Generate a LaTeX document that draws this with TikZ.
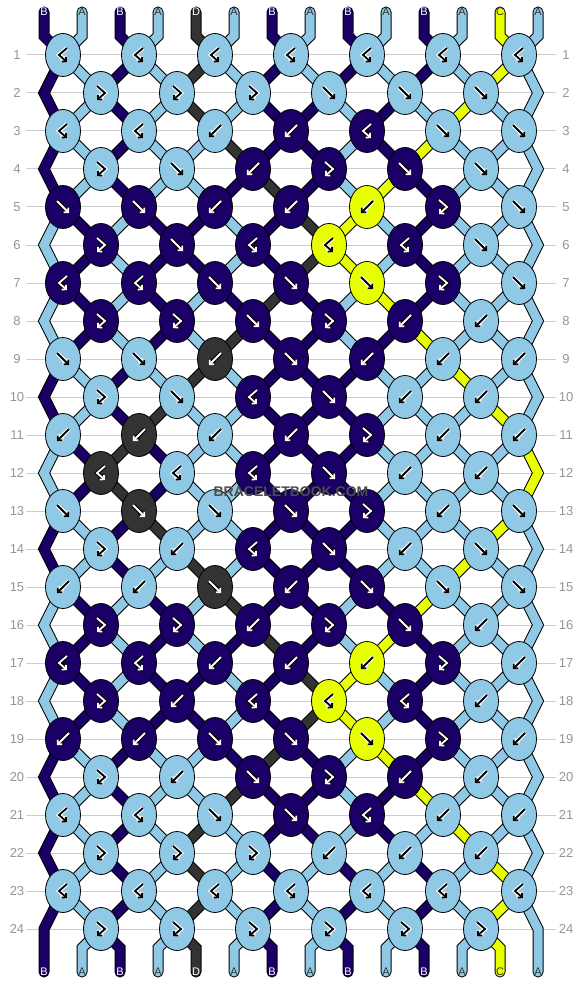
\documentclass[tikz,border=0pt]{standalone}
\usepackage{fontspec}
\setmainfont{Liberation Sans}
\usetikzlibrary{shapes.geometric,arrows.meta}

\definecolor{colA}{RGB}{143,201,230}
\definecolor{colB}{RGB}{26,0,102}
\definecolor{colC}{RGB}{232,255,0}
\definecolor{colD}{RGB}{51,51,51}
\colorlet{glyA}{black}\colorlet{halA}{white}\colorlet{labA}{black!80}
\colorlet{glyB}{white}\colorlet{halB}{black}\colorlet{labB}{white}
\colorlet{glyC}{black}\colorlet{halC}{white}\colorlet{labC}{black!80}
\colorlet{glyD}{white}\colorlet{halD}{black}\colorlet{labD}{white}
\definecolor{gridgrey}{RGB}{204,204,204}
\definecolor{numgrey}{RGB}{150,150,150}

\pgfdeclarelayer{grid}
\pgfdeclarelayer{strout}
\pgfdeclarelayer{strfill}
\pgfsetlayers{grid,strout,strfill,main}

%% string colour bookkeeping
\newcommand{\setstr}[2]{\expandafter\xdef\csname str#1\endcsname{#2}}
\newcommand{\getstr}[1]{\csname str#1\endcsname}
\newcommand{\setrow}[3]{\expandafter\xdef\csname row#1-#2\endcsname{#3}}
\newcommand{\getrow}[2]{\csname row#1-#2\endcsname}
%% knot holding string position #2 in row #1 -> \pn
\newcommand{\posnode}[2]{%
  \ifodd#1\relax
    \pgfmathtruncatemacro{\pk}{(#2+1)/2}\edef\pn{k#1-\pk}%
  \else
    \ifnum#2=1 \edef\pn{k#1-L}\else
    \ifnum#2=14 \edef\pn{k#1-R}\else
    \pgfmathtruncatemacro{\pk}{#2/2}\edef\pn{k#1-\pk}\fi\fi
  \fi}
\newcommand{\glyph}[1]{\draw[glyphhalo, draw=\hcol] #1;\draw[glyphline, draw=\gcol] #1;}
%% every string piece, drawn with the current strand style
\newcommand{\allstrands}{%
  \foreach \i in {1,...,14}{
    \pgfmathtruncatemacro{\kk}{(\i+1)/2}
    \edef\scol{col\getrow{0}{\i}}
    \draw[strand=\scol] (top\i.center) -- ++(0,24) -- (k1-\kk.center);
  }
  \foreach \r in {1,...,23}{
    \pgfmathtruncatemacro{\rn}{\r+1}
    \foreach \i in {2,...,13}{
      \posnode{\r}{\i}\edef\pa{\pn}
      \posnode{\rn}{\i}\edef\pb{\pn}
      \edef\scol{col\getrow{\r}{\i}}
      \draw[strand=\scol] (\pa.center) -- (\pb.center);
    }
  }
  \foreach \r in {1,3,...,21}{
    \pgfmathtruncatemacro{\rn}{\r+1}\pgfmathtruncatemacro{\rnn}{\r+2}
    \edef\scol{col\getrow{\r}{1}}
    \draw[strand=\scol] (k\r-1.center) -- (k\rn-L) -- (k\rnn-1.center);
    \edef\scol{col\getrow{\r}{14}}
    \draw[strand=\scol] (k\r-7.center) -- (k\rn-R) -- (k\rnn-7.center);
  }
  \edef\scol{col\getrow{23}{1}}
  \draw[strand=\scol] (k23-1.center) -- (k24-L) -- (bot1.center);
  \edef\scol{col\getrow{23}{14}}
  \draw[strand=\scol] (k23-7.center) -- (k24-R) -- (bot14.center);
  \foreach \i in {2,...,13}{
    \pgfmathtruncatemacro{\kk}{\i/2}
    \ifodd\i\relax \def\dx{19}\else \def\dx{-19}\fi
    \edef\scol{col\getrow{24}{\i}}
    \draw[strand=\scol] (k24-\kk.center) -- ++(\dx,19) -- (bot\i.center);
  }}

\begin{document}
\begin{tikzpicture}[x=1pt,y=-1pt]
\tikzset{
  knot/.style={ellipse, draw=black, line width=0.8pt, minimum width=35pt, minimum height=43pt, inner sep=0pt},
  glyphhalo/.style={line width=4pt, -{Straight Barb[length=3pt,width=6.5pt]}},
  glyphline/.style={line width=1.8pt, -{Straight Barb[length=3pt,width=6.5pt]}},
  endlabel/.style={font=\fontsize{11}{11}\selectfont, inner sep=0pt},
  rownum/.style={font=\fontsize{13}{13}\selectfont, text=numgrey, inner sep=0pt},
  gridline/.style={draw=gridgrey, line width=1pt},
  watermark/.style={font=\bfseries\fontsize{14}{14}\selectfont, text=black!70}
}
\path[use as bounding box] (0,0) rectangle (582,984);

%% ROW LINES AND NUMBERS
\begin{pgfonlayer}{grid}
  \fill[white] (0,0) rectangle (582,984);
  \foreach \r in {1,...,24}{
    \pgfmathtruncatemacro{\py}{17+38*\r}
    \draw[gridline] (26,\py) -- (556,\py);
  }
\end{pgfonlayer}
\foreach \r in {1,...,24}{
  \pgfmathtruncatemacro{\py}{17+38*\r}
  \node[rownum] (lnum\r) at (17,\py) {\r};
  \node[rownum] (rnum\r) at (566,\py) {\r};
}

%% TOP ENDS
\foreach \c [count=\i] in {B,A,B,A,D,A,B,A,B,A,B,A,C,A}{
  \setstr{\i}{\c}\setrow{0}{\i}{\c}
  \edef\lcol{lab\c}
  \node[endlabel, text=\lcol] (top\i) at ({44+38*(\i-1)},12) {\c};
}

%% KNOTS  (1 = f, 2 = b, 3 = fb, 4 = bf)
\foreach \knots [count=\r] in {%
  {4,4,4,4,4,4,4},{3,3,3,1,1,1},{4,4,2,2,4,1,1},{3,1,2,3,1,1},%
  {1,1,2,2,2,3,1},{3,1,4,4,4,1},{4,4,1,1,1,3,1},{3,3,1,3,2,2},%
  {1,1,2,1,2,2,2},{3,1,4,1,2,2},{2,2,2,2,3,2,2},{4,4,4,1,2,2},%
  {1,1,1,1,3,2,1},{3,2,4,1,2,1},{2,2,1,2,1,1,1},{3,3,2,3,1,2},%
  {4,4,2,2,2,3,2},{3,2,4,4,4,2},{2,2,1,1,1,3,2},{3,2,1,3,2,2},%
  {4,4,1,1,4,2,2},{3,3,3,2,2,2},{4,4,4,4,4,4,4},{3,3,3,3,3,3}%
}{
  \pgfmathtruncatemacro{\py}{17+38*\r}
  \foreach \t [count=\k] in \knots {
    \ifodd\r\relax
      \pgfmathtruncatemacro{\lp}{2*\k-1}\pgfmathtruncatemacro{\px}{63+76*(\k-1)}
    \else
      \pgfmathtruncatemacro{\lp}{2*\k}\pgfmathtruncatemacro{\px}{101+76*(\k-1)}
    \fi
    \pgfmathtruncatemacro{\rp}{\lp+1}
    \edef\lc{\getstr{\lp}}\edef\rc{\getstr{\rp}}
    \edef\kc{\ifcase\t\or\lc\or\rc\or\lc\or\rc\fi}
    \edef\kfill{col\kc}\edef\gcol{gly\kc}\edef\hcol{hal\kc}
    \node[knot, fill=\kfill] (k\r-\k) at (\px,\py) {};
    \ifcase\t\or
      \glyph{(\px-6,\py-6) -- (\px+6,\py+6)}\or
      \glyph{(\px+6,\py-6) -- (\px-6,\py+6)}\or
      \glyph{(\px-4,\py-7) -- (\px+4,\py) -- (\px-4,\py+7)}\or
      \glyph{(\px+4,\py-7) -- (\px-4,\py) -- (\px+4,\py+7)}\fi
    \ifnum\t<3 \setstr{\lp}{\rc}\setstr{\rp}{\lc}\fi
  }
  \ifodd\r\relax\else
    \coordinate (k\r-L) at (44,\py);
    \coordinate (k\r-R) at (538,\py);
  \fi
  \foreach \i in {1,...,14}{\setrow{\r}{\i}{\getstr{\i}}}
}

%% BOTTOM ENDS
\foreach \i in {1,...,14}{
  \edef\blet{\getrow{24}{\i}}\edef\lcol{lab\blet}
  \node[endlabel, text=\lcol] (bot\i) at ({44+38*(\i-1)},972) {\blet};
}

%% STRINGS: black edge first, colour on top
\begin{pgfonlayer}{strout}
  \tikzset{strand/.style={draw=black, line width=11pt, line cap=round}}
  \allstrands
\end{pgfonlayer}
\begin{pgfonlayer}{strfill}
  \tikzset{strand/.style={draw=#1, line width=9pt, line cap=round}}
  \allstrands
\end{pgfonlayer}

\node[watermark] (wm) at (291,492) {BRACELETBOOK.COM};
\end{tikzpicture}
\end{document}
